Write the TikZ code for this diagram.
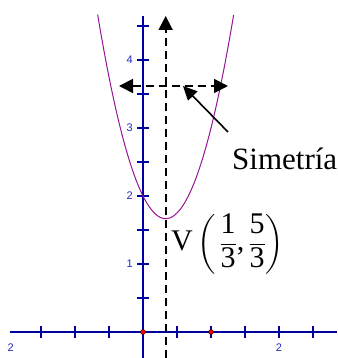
\documentclass[tikz,border=0pt]{standalone}
\usepackage{fontspec}
\setmainfont{Liberation Serif}
\newfontfamily\labfont{Liberation Sans}
\usepackage{amsmath}
\usetikzlibrary{arrows.meta}
\definecolor{axisblue}{RGB}{0,0,160}
\definecolor{labblue}{RGB}{40,40,190}
\definecolor{parpurple}{RGB}{150,20,150}
\tikzset{
  axisline/.style={axisblue, line width=1.1pt},
  tickmark/.style={axisblue, line width=1.1pt},
  ticklabel/.style={labblue, font=\labfont\fontsize{11}{13}\selectfont, inner sep=0pt},
  symline/.style={black, line width=1.8pt, dash pattern=on 8pt off 5pt},
  bigtip/.style={-{Triangle[length=14pt,width=14pt]}},
  dot/.style={circle, fill=red, draw=black, line width=0.4pt, inner sep=0pt, minimum size=5pt},
}
\newcommand{\tx}[1]{\text{#1}}
\begin{document}
\begin{tikzpicture}[x=68pt,y=68pt]
\useasboundingbox (-143pt,-26pt) rectangle (194pt,332pt);
\begin{scope}
\clip (-143pt,-26pt) rectangle (194pt,332pt);
% axes
\coordinate (xl) at (-133pt,0);
\coordinate (xr) at (194pt,0);
\coordinate (yb) at (0,-26pt);
\coordinate (yt) at (0,316pt);
\draw[axisline] (xl) -- (xr);
\draw[axisline] (yb) -- (yt);
\foreach \t in {-1.5,-1,-0.5,0.5,1,1.5,2,2.5}
  \draw[tickmark] (\t,-6pt) -- (\t,6pt);
\foreach \t in {0.5,1,1.5,2,2.5,3,3.5,4,4.5}
  \draw[tickmark] (-6pt,\t) -- (6pt,\t);
\foreach \t in {1,2,3,4}
  \node[ticklabel, anchor=east] (yl\t) at (-10pt,\t) {\t};
\node[ticklabel] (xl2) at (2,-16pt) {2};
\begin{scope}
\clip (-135pt,-26pt) rectangle (-120pt,0pt);
\node[ticklabel, anchor=east] (xlm2) at (-129pt,-16pt) {-2};
\end{scope}
% parabola
\draw[parpurple, line width=1pt, smooth, samples=80, domain=-0.667:1.333] plot (\x,{3*\x*\x-2*\x+2});
% points
\node[dot] (p0) at (0,0) {};
\node[dot] (p1) at (1,0) {};
% symmetry axis
\coordinate (vb) at (0.3333,-26pt);
\coordinate (vt) at (0.3333,316pt);
\draw[symline, bigtip] (vb) -- (vt);
\coordinate (hl) at (-24pt,246pt);
\coordinate (hr) at (85pt,246pt);
\draw[symline, {Triangle[length=14pt,width=14pt]}-{Triangle[length=14pt,width=14pt]}] (hl) -- (hr);
% pointer
\coordinate (ps) at (85pt,200pt);
\coordinate (pe) at (40pt,246pt);
\draw[black, line width=1.6pt, -{Triangle[length=14pt,width=13pt]}] (ps) -- (pe);
\end{scope}
\node[anchor=base west, inner sep=0pt, font=\fontsize{31}{36}\selectfont] (sim) at (89pt,162pt) {Simetría};
\node[anchor=west, inner sep=0pt, font=\fontsize{30}{36}\selectfont] (vtx) at (28pt,88pt) {$\tx{V}\left(\,\dfrac{\tx{1}}{\tx{3}}\tx{,}\,\dfrac{\tx{5}}{\tx{3}}\right)$};
\end{tikzpicture}
\end{document}
